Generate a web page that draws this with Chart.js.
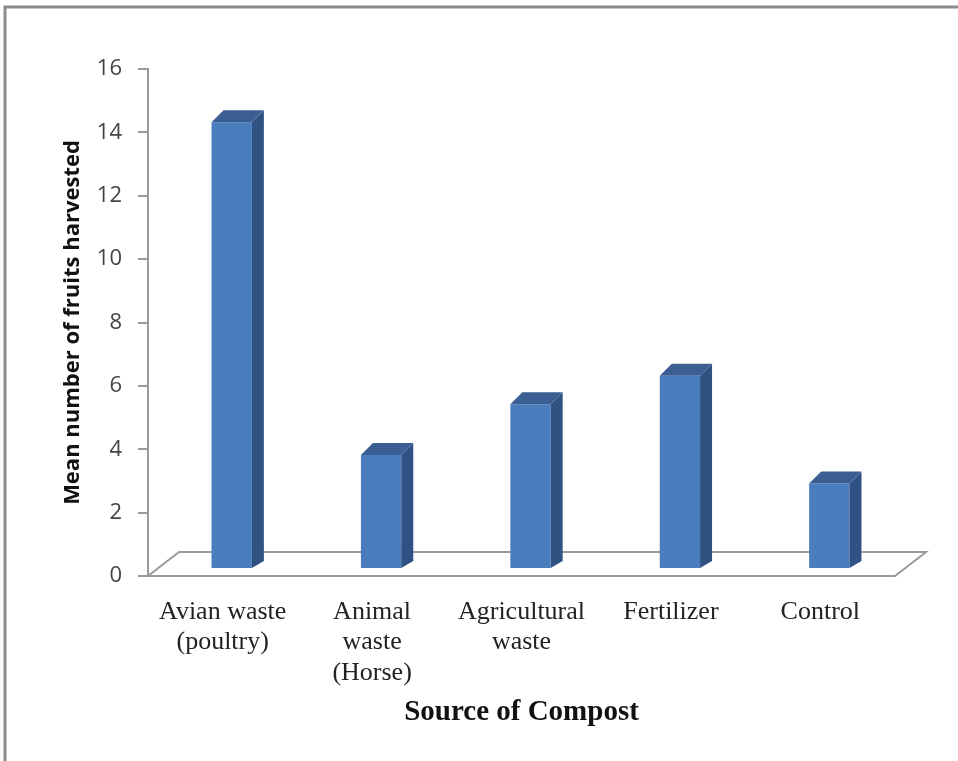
<!DOCTYPE html>
<html>
<head>
<meta charset="utf-8">
<script src="https://cdn.jsdelivr.net/npm/chart.js@4/dist/chart.umd.min.js"></script>
<style>
  html, body { margin: 0; padding: 0; background: #fff; }
  #wrap { width: 958px; height: 761px; }
</style>
</head>
<body>
<div id="wrap"><canvas id="chart" width="958" height="761"></canvas></div>
<script>
const categories = [
  ["Avian waste", "(poultry)"],
  ["Animal", "waste", "(Horse)"],
  ["Agricultural", "waste"],
  "Fertilizer",
  "Control",
];
const meanFruits = [14.1, 3.6, 5.2, 6.1, 2.7];
const yTicks = [0, 2, 4, 6, 8, 10, 12, 14, 16];

// fake 3d look, like the excel original
const depth = { floorX: 31, floorY: 24, barShiftX: 9, barShiftY: 7, sideX: 12, topY: 12, bottomY: 7 };
const colors = { front: "#4a7dbd", side: "#2f5283", top: "#3b5f92", line: "#9a9a9a" };

const threeD = {
  id: "threeD",
  beforeDraw(chart) {
    const ctx = chart.ctx;
    ctx.save();
    ctx.strokeStyle = "#8c8c8c";
    ctx.lineWidth = 3;
    ctx.beginPath();
    ctx.moveTo(5, 761);
    ctx.lineTo(5, 7);
    ctx.lineTo(958, 7);
    ctx.stroke();
    ctx.restore();
  },
  beforeDatasetsDraw(chart) {
    const { ctx, chartArea: a } = chart;
    ctx.save();
    ctx.strokeStyle = colors.line;
    ctx.lineWidth = 2;
    ctx.beginPath();
    ctx.moveTo(a.left, a.bottom);
    ctx.lineTo(a.right, a.bottom);
    ctx.lineTo(a.right + depth.floorX, a.bottom - depth.floorY);
    ctx.lineTo(a.left + depth.floorX, a.bottom - depth.floorY);
    ctx.closePath();
    ctx.stroke();
    ctx.restore();
    ctx.save();
    ctx.translate(depth.barShiftX, -depth.barShiftY);
  },
  afterDatasetsDraw(chart) {
    const ctx = chart.ctx;
    chart.getDatasetMeta(0).data.forEach(bar => {
      const x0 = bar.x - bar.width / 2;
      const x1 = bar.x + bar.width / 2;
      const yt = bar.y;
      const yb = bar.base;
      ctx.fillStyle = colors.side;
      ctx.beginPath();
      ctx.moveTo(x1, yb);
      ctx.lineTo(x1 + depth.sideX, yb - depth.bottomY);
      ctx.lineTo(x1 + depth.sideX, yt - depth.topY);
      ctx.lineTo(x1, yt);
      ctx.closePath();
      ctx.fill();
      ctx.fillStyle = colors.top;
      ctx.beginPath();
      ctx.moveTo(x0, yt);
      ctx.lineTo(x1, yt);
      ctx.lineTo(x1 + depth.sideX, yt - depth.topY);
      ctx.lineTo(x0 + depth.sideX, yt - depth.topY);
      ctx.closePath();
      ctx.fill();
    });
    ctx.restore();
  },
};

new Chart(document.getElementById("chart"), {
  type: "bar",
  data: {
    labels: categories,
    datasets: [{
      data: meanFruits,
      backgroundColor: colors.front,
      borderWidth: 0,
      barPercentage: 0.27,
      categoryPercentage: 1,
      clip: false,
    }],
  },
  options: {
    responsive: false,
    animation: false,
    events: [],
    layout: { padding: { left: 60, right: 63, top: 69, bottom: 31 } },
    plugins: { legend: { display: false }, tooltip: { enabled: false } },
    scales: {
      x: {
        grid: { display: false },
        border: { display: false },
        ticks: {
          color: "#222",
          padding: 13,
          maxRotation: 0,
          autoSkip: false,
          font: { family: "'Liberation Serif', serif", size: 26, lineHeight: 1.17 },
        },
        title: {
          display: true,
          text: "Source of Compost",
          color: "#111",
          padding: 0,
          font: { family: "'Liberation Serif', serif", size: 29, weight: "bold", lineHeight: 1.2 },
        },
        afterFit(scale) { scale.height = 154; },
      },
      y: {
        min: 0,
        max: 16,
        afterBuildTicks(scale) { scale.ticks = yTicks.map(v => ({ value: v })); },
        grid: { drawOnChartArea: false, tickLength: 10, color: colors.line, lineWidth: 2 },
        border: { color: colors.line, width: 2 },
        ticks: {
          color: "#444",
          padding: 16,
          font: { family: "'Open Sans', sans-serif", size: 22 },
        },
        title: {
          display: true,
          text: "Mean number of fruits harvested",
          color: "#111",
          padding: 0,
          font: { family: "'Open Sans', sans-serif", size: 22, weight: "bold", lineHeight: 1.2 },
        },
        afterFit(scale) { scale.width = 88; },
      },
    },
  },
  plugins: [threeD],
});
</script>
</body>
</html>
